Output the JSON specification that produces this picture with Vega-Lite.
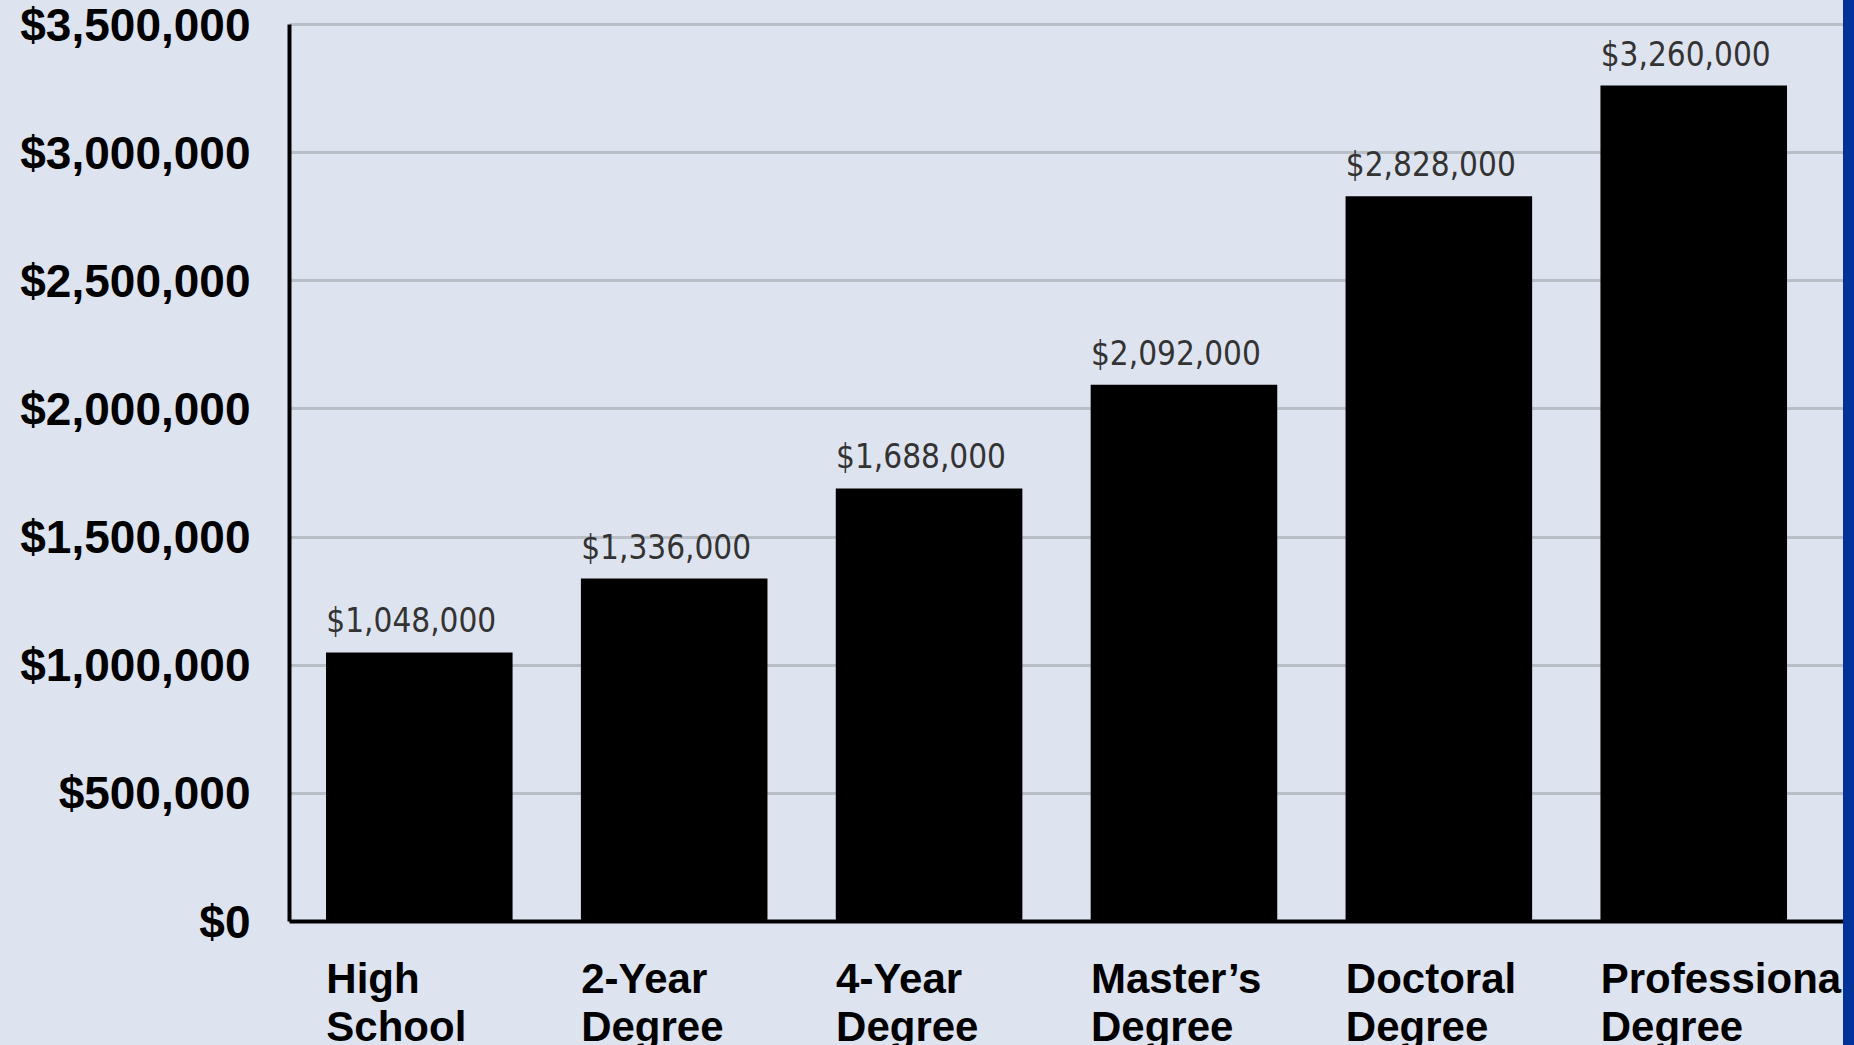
{
  "$schema": "https://vega.github.io/schema/vega-lite/v6.json",
  "width": 1554,
  "height": 897,
  "autosize": "none",
  "padding": {"left": 289, "top": 24, "right": 11, "bottom": 124},
  "background": "#dee4ef",
  "config": {"view": {"stroke": null}, "font": "Liberation Sans"},
  "data": {
    "values": [
      {"level": "High School", "earnings": 1048000},
      {"level": "2-Year Degree", "earnings": 1336000},
      {"level": "4-Year Degree", "earnings": 1688000},
      {"level": "Master’s Degree", "earnings": 2092000},
      {"level": "Doctoral Degree", "earnings": 2828000},
      {"level": "Professional Degree", "earnings": 3260000}
    ]
  },
  "layer": [
    {
      "encoding": {
        "x": {
          "field": "level", "type": "nominal", "sort": null,
          "scale": {"paddingInner": 0.268, "paddingOuter": 0.1824, "align": 0.398},
          "axis": {
            "title": null, "labelAngle": 0, "labelAlign": "left", "labelBaseline": "top",
            "labelOffset": -93, "labelPadding": 38, "labelFontSize": 42, "labelFontWeight": "bold",
            "labelFont": "Liberation Sans", "labelColor": "#000000", "labelLineHeight": 48,
            "labelExpr": "split(datum.label, ' ')", "labelLimit": 0, "labelOverlap": false, "labelBound": false,
            "ticks": false, "tickSize": 0, "domainColor": "#000000", "domainWidth": 4
          }
        },
        "y": {
          "field": "earnings", "type": "quantitative",
          "scale": {"domain": [0, 3500000], "nice": false},
          "axis": {
            "title": null,
            "values": [0, 500000, 1000000, 1500000, 2000000, 2500000, 3000000, 3500000],
            "format": "$,.0f", "labelFont": "Liberation Sans", "labelFontWeight": "bold",
            "labelFontSize": 46, "labelColor": "#000000", "labelPadding": 39, "labelLimit": 0,
            "labelBaseline": "alphabetic", "labelOffset": 16, "labelOverlap": false,
            "ticks": false, "tickSize": 0, "domainColor": "#000000", "domainWidth": 4,
            "grid": true, "gridColor": "#b9bfc7", "gridWidth": 3
          }
        }
      },
      "layer": [
        {"mark": {"type": "bar", "color": "#000000"}},
        {
          "mark": {"type": "text", "align": "left", "baseline": "alphabetic", "dy": -20, "dx": -93,
                   "font": "DejaVu Sans Condensed, Liberation Sans, sans-serif", "fontSize": 33, "color": "#333333"},
          "encoding": {
            "text": {"field": "earnings", "type": "quantitative", "format": "$,.0f"}
          }
        }
      ]
    },
    {
      "data": {"values": [{"stripe": "right"}]},
      "mark": {"type": "rect", "color": "#003399", "clip": false},
      "encoding": {
        "x": {"datum": 1, "type": "quantitative", "scale": {"domain": [0, 1], "nice": false, "zero": false}, "axis": null},
        "x2": {"datum": 1.03},
        "y": {"datum": 3700000, "type": "quantitative", "scale": {"domain": [0, 3500000], "nice": false}},
        "y2": {"datum": -600000}
      }
    }
  ],
  "resolve": {"scale": {"x": "independent"}}
}
